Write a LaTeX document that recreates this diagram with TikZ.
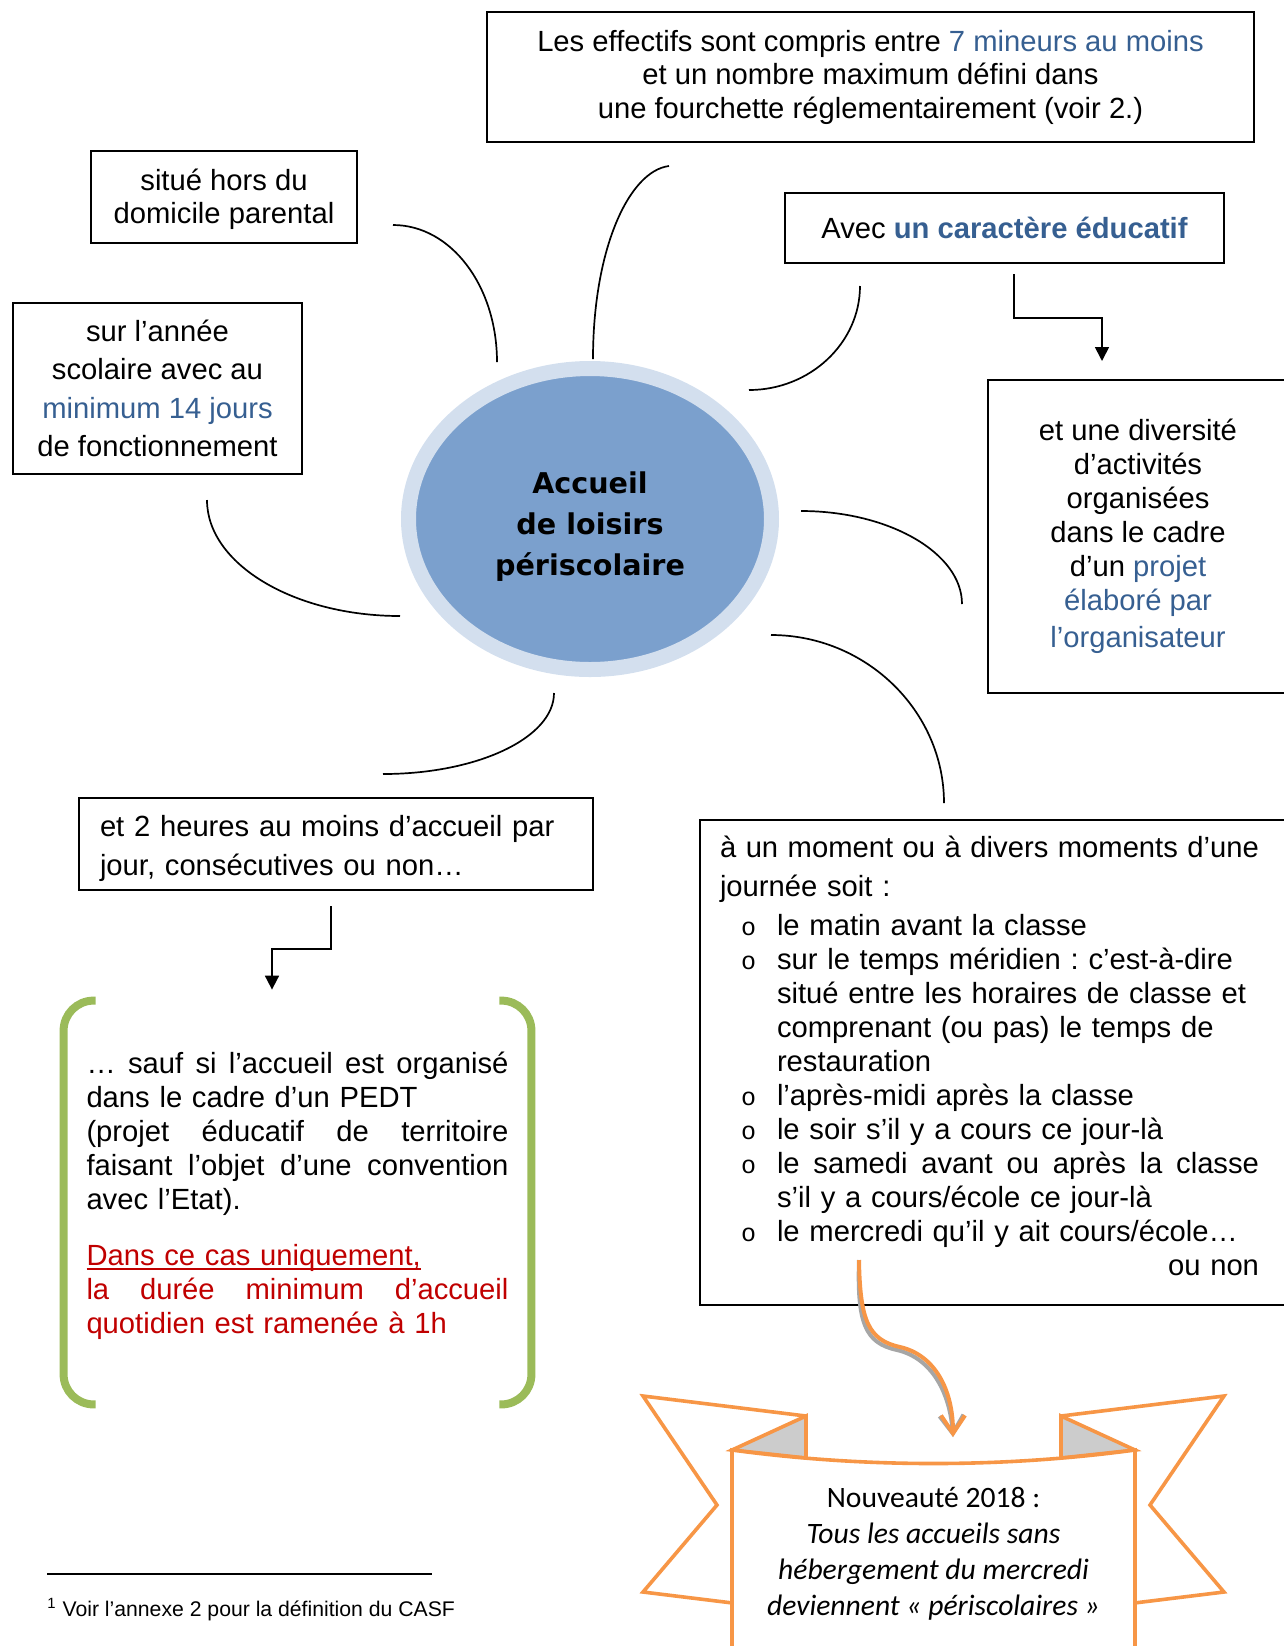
\documentclass[tikz,border=0pt]{standalone}
\usepackage{fontspec}
\setmainfont{Liberation Sans}
\newfontfamily\heavyfont{DejaVu Sans}
\newfontfamily\ribbonfont{Carlito}
\newfontfamily\bulletfont{Liberation Mono}
\usetikzlibrary{arrows.meta,shapes.geometric,positioning}
\frenchspacing

\definecolor{blueT}{HTML}{365F91}
\definecolor{redT}{HTML}{C00000}
\definecolor{ringblue}{HTML}{D3DFEE}
\definecolor{coreblue}{HTML}{7BA0CD}
\definecolor{greenB}{HTML}{9BBB59}
\definecolor{orangeR}{HTML}{F79646}
\definecolor{foldgrey}{HTML}{CCCCCC}

\newcommand{\puce}{\makebox[28.5pt][l]{\hspace{10.5pt}{\bulletfont\fontsize{12.5}{12.5}\selectfont o}}}
\newcommand{\suite}{\hspace*{28.5pt}}
\newcommand{\souligne}[1]{\setbox0\hbox{#1}\rlap{\rule[-2.4pt]{\wd0}{0.9pt}}\box0}

\begin{document}
\begin{tikzpicture}[x=0.5pt,y=-0.5pt,
	every node/.style={font=\fontsize{14.6}{16.8}\selectfont,inner sep=0pt},
	box/.style={draw,line width=1pt,align=center},
	link/.style={line width=0.85pt},
	elbow/.style={-{Triangle[length=7pt,width=7pt]},line width=0.85pt},
	bracket/.style={draw=greenB,line width=4pt,rounded corners=15pt},
	ribbon/.style={draw=orangeR,line width=1.8pt,line join=miter,fill=white},
	fold/.style={draw=orangeR,line width=1.8pt,line join=miter,fill=foldgrey},
	curly/.style={line width=2pt,-{Straight Barb[length=9pt,width=12pt]}}]

\useasboundingbox (0,0) rectangle (1284,1646);
\clip (0,0) rectangle (1284,1646);

\node[box,minimum width=383.5pt,minimum height=65pt,font=\fontsize{14.6}{16.75}\selectfont] (effectifs) at (870.5,77)
	{Les effectifs sont compris entre \textcolor{blueT}{7 mineurs au moins}\\
	 et un nombre maximum défini dans\\
	 une fourchette réglementairement (voir 2.)};
\node[box,minimum width=133pt,minimum height=46pt,font=\fontsize{14.6}{16.5}\selectfont] (domicile) at (224,197)
	{\rule{0pt}{13pt}situé hors du\\domicile parental};
\node[box,minimum width=219.5pt,minimum height=35pt] (caractere) at (1004.5,228)
	{Avec \textbf{\textcolor{blueT}{un caractère éducatif}}};
\node[box,minimum width=150pt,minimum height=156.5pt,font=\fontsize{14.6}{17}\selectfont] (diversite) at (1138,536.5)
	{et une diversité\\d’activités\\organisées\\dans le cadre\\d’un \textcolor{blueT}{projet}\\
	 \textcolor{blueT}{élaboré par}\\[1.5pt]\textcolor{blueT}{l’organisateur}};
\node[box,minimum width=144.5pt,minimum height=85.5pt,font=\fontsize{14.6}{19.2}\selectfont] (annee) at (157.5,388.5)
	{sur l’année\\scolaire avec au\\\textcolor{blueT}{minimum 14 jours}\\de fonctionnement};
\node[box,minimum width=257pt,minimum height=46pt,align=left,text width=236pt,font=\fontsize{14.6}{19.5}\selectfont] (heures) at (336,844)
	{\rule{0pt}{15pt}et 2 heures au moins d’accueil par\\jour, consécutives ou non…};

\node[ellipse,draw=ringblue,line width=7.5pt,fill=coreblue,minimum width=181.5pt,minimum height=150.5pt,
	align=center,font=\heavyfont\fontsize{14.3}{20.5}\selectfont\bfseries] (accueil) at (590,519)
	{\rule{0pt}{18pt}Accueil\\de loisirs\\périscolaire};

\coordinate (domA) at (393,225);   \coordinate (domB) at (497,362);
\coordinate (effA) at (669,166);   \coordinate (effB) at (593,359);
\coordinate (carA) at (860,286);   \coordinate (carB) at (749,390);
\coordinate (divA) at (801,511);   \coordinate (divB) at (962,604);
\coordinate (momA) at (771,635);   \coordinate (momB) at (944,803);
\coordinate (heuA) at (554,693);   \coordinate (heuB) at (383,774);
\coordinate (annA) at (207,500);   \coordinate (annB) at (400,616);

\draw[link] (domA) .. controls +(58,0) and +(0,-76) .. (domB);
\draw[link] (effA) .. controls +(-40,5) and +(0,-110) .. (effB);
\draw[link] (carA) .. controls +(0,57) and +(61,0) .. (carB);
\draw[link] (divA) .. controls +(88,0) and +(0,-51) .. (divB);
\draw[link] (momA) .. controls +(95,0) and +(0,-92) .. (momB);
\draw[link] (heuA) .. controls +(0,45) and +(94,0) .. (heuB);
\draw[link] (annA) .. controls +(0,64) and +(-106,0) .. (annB);

\draw[elbow] ([xshift=4.75pt,yshift=-5pt]caractere.south) -- ++(0,44) -| ([xshift=-18pt,yshift=9pt]diversite.north);

\node[box,minimum width=294pt,minimum height=242.5pt,align=left,text width=274pt,font=\fontsize{14.6}{17}\selectfont] (moments) at (994,1062.5)
	{\makebox[269.5pt][l]{à\hfill un\hfill moment\hfill ou\hfill à\hfill divers\hfill moments\hfill d’une}\\[2.5pt]
	 journée soit :\\[2.5pt]
	 \puce le matin avant la classe\\
	 \puce sur le temps méridien : c’est-à-dire\\
	 \suite situé entre les horaires de classe et\\
	 \suite comprenant (ou pas) le temps de\\
	 \suite restauration\\
	 \puce l’après-midi après la classe\\
	 \puce le soir s’il y a cours ce jour-là\\
	 \puce \makebox[241pt][l]{le\hfill samedi\hfill avant\hfill ou\hfill après\hfill la\hfill classe}\\
	 \suite s’il y a cours/école ce jour-là\\
	 \puce le mercredi qu’il y ait cours/école…\\
	 \makebox[269.5pt][r]{ou non}\\[-10pt]\mbox{}};

\node[minimum width=233.5pt,minimum height=201.5pt,align=left,text width=211pt,font=\fontsize{14.6}{17}\selectfont] (pedt) at (297.5,1202.5)
	{\makebox[211pt][l]{…\hfill sauf\hfill si\hfill l’accueil\hfill est\hfill organisé}\\
	 dans le cadre d’un PEDT\\
	 \makebox[211pt][l]{(projet\hfill éducatif\hfill de\hfill territoire}\\
	 \makebox[211pt][l]{faisant\hfill l’objet\hfill d’une\hfill convention}\\
	 avec l’Etat).\\[11pt]
	 \textcolor{redT}{\souligne{Dans ce cas uniquement,}}\\
	 \textcolor{redT}{\makebox[211pt][l]{la\hfill durée\hfill minimum\hfill d’accueil}}\\
	 \textcolor{redT}{quotidien est ramenée à 1h}\\[-7pt]\mbox{}};
\draw[bracket] ([xshift=16pt]pedt.north west) -- (pedt.north west) -- (pedt.south west) -- ([xshift=16pt]pedt.south west);
\draw[bracket] ([xshift=-16pt]pedt.north east) -- (pedt.north east) -- (pedt.south east) -- ([xshift=-16pt]pedt.south east);

\draw[elbow] ([xshift=-2.5pt,yshift=-7.5pt]heures.south) -- ++(0,43) -| ([xshift=-12.75pt,yshift=5.5pt]pedt.north);

\draw[ribbon] (643,1396) -- (806,1416) -- (806,1612) -- (643,1592) -- (717,1505) -- cycle;
\draw[ribbon] (1224,1396) -- (1061,1416) -- (1061,1612) -- (1224,1592) -- (1150,1505) -- cycle;
\draw[fold] (806,1416) -- (732,1450) -- (806,1458) -- cycle;
\draw[fold] (1061,1416) -- (1135,1450) -- (1061,1458) -- cycle;
\draw[ribbon] (732,1670) -- (732,1450) .. controls (865,1468) and (1002,1468) .. (1135,1450) -- (1135,1670);

\node[font=\ribbonfont\fontsize{14.8}{18}\selectfont,align=center] (nouveaute) at (933.5,1554)
	{Nouveauté 2018 :\\\textit{Tous les accueils sans}\\\textit{hébergement du mercredi}\\\textit{deviennent «~périscolaires~»}};

\coordinate (depart) at (859,1260);
\coordinate (arrivee) at (953,1437);
\draw[curly,draw=gray!70,xshift=-1.5pt,yshift=-1.5pt] (depart) .. controls (860,1320) and (868,1340) .. (900,1347) .. controls (935,1355) and (953,1390) .. (arrivee);
\draw[curly,draw=orangeR] (depart) .. controls (860,1320) and (868,1340) .. (900,1347) .. controls (935,1355) and (953,1390) .. (arrivee);

\draw[line width=0.6pt] (47,1574) -- (432,1574);
\node[anchor=base west,font=\fontsize{10.6}{12}\selectfont] (renvoi) at (47,1616)
	{\textsuperscript{1} Voir l’annexe 2 pour la définition du CASF};

\end{tikzpicture}
\end{document}
